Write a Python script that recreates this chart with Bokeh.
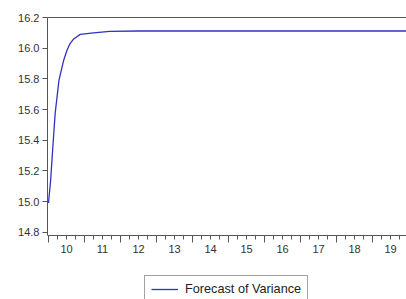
from bokeh.plotting import figure
from bokeh.models import (LinearAxis, FixedTicker, Range1d, Legend, LegendItem,
                          NumeralTickFormatter, CustomJSTickFormatter)
from bokeh.embed import file_html
from bokeh.resources import INLINE

# ---- data ----
step = [9.50, 9.56, 9.62, 9.685, 9.79, 9.92, 10.01, 10.10, 10.20, 10.38, 10.75, 11.2, 12.0, 19.5]
variance = [14.99, 15.14, 15.355, 15.575, 15.79, 15.92, 15.985, 16.03, 16.06, 16.09, 16.10, 16.11, 16.112, 16.112]
x_labels = [10, 11, 12, 13, 14, 15, 16, 17, 18, 19]
y_ticks = [14.8, 15.0, 15.2, 15.4, 15.6, 15.8, 16.0, 16.2]
series_name = "Forecast of Variance"

FONT = "Liberation Sans"
AXIS_COLOR = "#555555"
TEXT_COLOR = "#333333"
Y_BOTTOM = 14.78   # where the x axis sits (slightly under the lowest tick)

# frame covers everything below the top border so that the legend under the
# axis is not clipped; the x axes are pinned at Y_BOTTOM
p = figure(width=406, height=299,
           x_range=Range1d(9.472, 19.444), y_range=Range1d(14.361, 16.2),
           output_backend="svg", toolbar_location=None,
           min_border_left=47, min_border_right=0,
           min_border_top=17, min_border_bottom=0)
p.xgrid.visible = False
p.ygrid.visible = False
p.outline_line_color = None
p.background_fill_color = "white"
p.border_fill_color = "white"

r = p.line(step, variance, line_color="#3232c0", line_width=1.3)

# x axis 1: tick marks only (tall at period boundaries, short at quarters)
bounds = [k + 0.5 for k in range(9, 20)]
quarters = [k + f for k in range(9, 20) for f in (0.0, 0.25, 0.75)]
ax1 = p.xaxis[0]
ax1.fixed_location = Y_BOTTOM
ax1.ticker = FixedTicker(ticks=bounds, minor_ticks=quarters)
ax1.formatter = CustomJSTickFormatter(code="return ''")
ax1.major_tick_out = 7
ax1.major_tick_in = 0
ax1.minor_tick_out = 4
ax1.minor_tick_in = 0
ax1.major_tick_line_color = AXIS_COLOR
ax1.minor_tick_line_color = AXIS_COLOR
ax1.axis_line_color = AXIS_COLOR
ax1.major_label_text_font_size = "1px"
ax1.major_label_standoff = 0

# x axis 2: labels only, centred within each period
ax2 = LinearAxis(ticker=FixedTicker(ticks=x_labels), fixed_location=Y_BOTTOM,
                 major_tick_out=0, major_tick_in=0,
                 minor_tick_out=0, minor_tick_in=0,
                 major_tick_line_color=None, minor_tick_line_color=None,
                 axis_line_color=None, major_label_standoff=10,
                 major_label_text_font=FONT, major_label_text_font_size="11px",
                 major_label_text_color=TEXT_COLOR)
p.add_layout(ax2, "below")

# top border as an empty axis
top = LinearAxis(ticker=FixedTicker(ticks=[]), major_tick_out=0, major_tick_in=0,
                 minor_tick_out=0, minor_tick_in=0,
                 major_label_standoff=0,
                 axis_line_color=AXIS_COLOR, axis_line_width=1.2)
p.add_layout(top, "above")

ya = p.yaxis[0]
ya.bounds = (Y_BOTTOM, 16.2)
ya.ticker = FixedTicker(ticks=y_ticks)
ya.formatter = NumeralTickFormatter(format="0.0")
ya.major_tick_out = 5
ya.major_tick_in = 0
ya.minor_tick_out = 0
ya.minor_tick_in = 0
ya.minor_tick_line_color = None
ya.major_tick_line_color = AXIS_COLOR
ya.axis_line_color = AXIS_COLOR
ya.major_label_standoff = 3
ya.major_label_text_font = FONT
ya.major_label_text_font_size = "11px"
ya.major_label_text_color = TEXT_COLOR

legend = Legend(items=[LegendItem(label=series_name, renderers=[r])],
                location=(97, -4), padding=6, spacing=0, margin=0,
                glyph_width=27, glyph_height=14, label_height=14,
                label_standoff=7, label_text_font=FONT,
                label_text_font_size="12.7px", label_text_color="#222222",
                border_line_color="#444444", border_line_width=1,
                background_fill_color="white", background_fill_alpha=1)
p.add_layout(legend)

open("out.html", "w").write(file_html(p, INLINE))
